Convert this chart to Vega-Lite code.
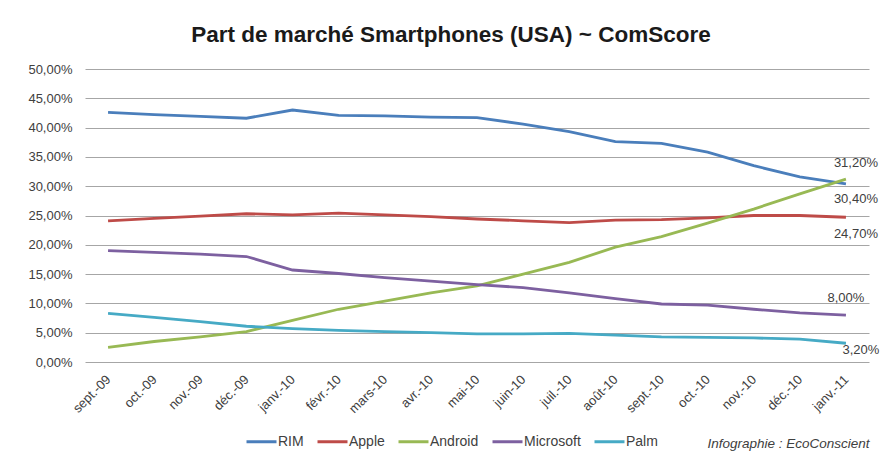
{
  "$schema": "https://vega.github.io/schema/vega-lite/v6.json",
  "width": 784,
  "height": 293,
  "autosize": {"type": "none"},
  "padding": {"left": 85, "top": 69, "right": 18, "bottom": 97},
  "background": "white",
  "config": {
    "locale": {"number": {"decimal": ",", "thousands": " ", "grouping": [3], "currency": ["", " €"]}},
    "view": {"stroke": null},
    "font": "Liberation Sans"
  },
  "title": {
    "text": "Part de marché Smartphones (USA) ~ ComScore",
    "font": "Liberation Sans",
    "fontSize": 22.5,
    "fontWeight": "bold",
    "color": "#1a1a1a",
    "anchor": "middle",
    "frame": "group",
    "dx": -26,
    "dy": 24,
    "baseline": "bottom",
    "offset": 18
  },
  "data": {"values": [
    {"month": "sept.-09", "series": "RIM", "value": 0.426},
    {"month": "oct.-09", "series": "RIM", "value": 0.422},
    {"month": "nov.-09", "series": "RIM", "value": 0.419},
    {"month": "déc.-09", "series": "RIM", "value": 0.416},
    {"month": "janv.-10", "series": "RIM", "value": 0.430},
    {"month": "févr.-10", "series": "RIM", "value": 0.421},
    {"month": "mars-10", "series": "RIM", "value": 0.420},
    {"month": "avr.-10", "series": "RIM", "value": 0.418},
    {"month": "mai-10", "series": "RIM", "value": 0.417},
    {"month": "juin-10", "series": "RIM", "value": 0.406},
    {"month": "juil.-10", "series": "RIM", "value": 0.393},
    {"month": "août-10", "series": "RIM", "value": 0.376},
    {"month": "sept.-10", "series": "RIM", "value": 0.373},
    {"month": "oct.-10", "series": "RIM", "value": 0.358},
    {"month": "nov.-10", "series": "RIM", "value": 0.335},
    {"month": "déc.-10", "series": "RIM", "value": 0.316},
    {"month": "janv.-11", "series": "RIM", "value": 0.304},
    {"month": "sept.-09", "series": "Apple", "value": 0.241},
    {"month": "oct.-09", "series": "Apple", "value": 0.245},
    {"month": "nov.-09", "series": "Apple", "value": 0.249},
    {"month": "déc.-09", "series": "Apple", "value": 0.253},
    {"month": "janv.-10", "series": "Apple", "value": 0.251},
    {"month": "févr.-10", "series": "Apple", "value": 0.254},
    {"month": "mars-10", "series": "Apple", "value": 0.251},
    {"month": "avr.-10", "series": "Apple", "value": 0.248},
    {"month": "mai-10", "series": "Apple", "value": 0.244},
    {"month": "juin-10", "series": "Apple", "value": 0.241},
    {"month": "juil.-10", "series": "Apple", "value": 0.238},
    {"month": "août-10", "series": "Apple", "value": 0.242},
    {"month": "sept.-10", "series": "Apple", "value": 0.243},
    {"month": "oct.-10", "series": "Apple", "value": 0.246},
    {"month": "nov.-10", "series": "Apple", "value": 0.250},
    {"month": "déc.-10", "series": "Apple", "value": 0.250},
    {"month": "janv.-11", "series": "Apple", "value": 0.247},
    {"month": "sept.-09", "series": "Android", "value": 0.025},
    {"month": "oct.-09", "series": "Android", "value": 0.035},
    {"month": "nov.-09", "series": "Android", "value": 0.043},
    {"month": "déc.-09", "series": "Android", "value": 0.052},
    {"month": "janv.-10", "series": "Android", "value": 0.071},
    {"month": "févr.-10", "series": "Android", "value": 0.090},
    {"month": "mars-10", "series": "Android", "value": 0.104},
    {"month": "avr.-10", "series": "Android", "value": 0.118},
    {"month": "mai-10", "series": "Android", "value": 0.130},
    {"month": "juin-10", "series": "Android", "value": 0.150},
    {"month": "juil.-10", "series": "Android", "value": 0.170},
    {"month": "août-10", "series": "Android", "value": 0.196},
    {"month": "sept.-10", "series": "Android", "value": 0.214},
    {"month": "oct.-10", "series": "Android", "value": 0.237},
    {"month": "nov.-10", "series": "Android", "value": 0.261},
    {"month": "déc.-10", "series": "Android", "value": 0.287},
    {"month": "janv.-11", "series": "Android", "value": 0.312},
    {"month": "sept.-09", "series": "Microsoft", "value": 0.190},
    {"month": "oct.-09", "series": "Microsoft", "value": 0.187},
    {"month": "nov.-09", "series": "Microsoft", "value": 0.184},
    {"month": "déc.-09", "series": "Microsoft", "value": 0.180},
    {"month": "janv.-10", "series": "Microsoft", "value": 0.157},
    {"month": "févr.-10", "series": "Microsoft", "value": 0.151},
    {"month": "mars-10", "series": "Microsoft", "value": 0.144},
    {"month": "avr.-10", "series": "Microsoft", "value": 0.138},
    {"month": "mai-10", "series": "Microsoft", "value": 0.132},
    {"month": "juin-10", "series": "Microsoft", "value": 0.127},
    {"month": "juil.-10", "series": "Microsoft", "value": 0.118},
    {"month": "août-10", "series": "Microsoft", "value": 0.108},
    {"month": "sept.-10", "series": "Microsoft", "value": 0.099},
    {"month": "oct.-10", "series": "Microsoft", "value": 0.097},
    {"month": "nov.-10", "series": "Microsoft", "value": 0.090},
    {"month": "déc.-10", "series": "Microsoft", "value": 0.084},
    {"month": "janv.-11", "series": "Microsoft", "value": 0.080},
    {"month": "sept.-09", "series": "Palm", "value": 0.083},
    {"month": "oct.-09", "series": "Palm", "value": 0.076},
    {"month": "nov.-09", "series": "Palm", "value": 0.069},
    {"month": "déc.-09", "series": "Palm", "value": 0.061},
    {"month": "janv.-10", "series": "Palm", "value": 0.057},
    {"month": "févr.-10", "series": "Palm", "value": 0.054},
    {"month": "mars-10", "series": "Palm", "value": 0.052},
    {"month": "avr.-10", "series": "Palm", "value": 0.050},
    {"month": "mai-10", "series": "Palm", "value": 0.048},
    {"month": "juin-10", "series": "Palm", "value": 0.048},
    {"month": "juil.-10", "series": "Palm", "value": 0.049},
    {"month": "août-10", "series": "Palm", "value": 0.046},
    {"month": "sept.-10", "series": "Palm", "value": 0.043},
    {"month": "oct.-10", "series": "Palm", "value": 0.042},
    {"month": "nov.-10", "series": "Palm", "value": 0.041},
    {"month": "déc.-10", "series": "Palm", "value": 0.039},
    {"month": "janv.-11", "series": "Palm", "value": 0.032}
  ]},
  "encoding": {
    "x": {
      "field": "month",
      "type": "ordinal",
      "sort": ["sept.-09", "oct.-09", "nov.-09", "déc.-09", "janv.-10", "févr.-10", "mars-10", "avr.-10", "mai-10", "juin-10", "juil.-10", "août-10", "sept.-10", "oct.-10", "nov.-10", "déc.-10", "janv.-11"],
      "axis": {
        "title": "Infographie : EcoConscient",
        "titleFont": "Liberation Sans",
        "titleFontStyle": "italic",
        "titleFontWeight": "normal",
        "titleFontSize": 13.5,
        "titleColor": "#404040",
        "titleAnchor": "end",
        "titleAlign": "right",
        "titleBaseline": "middle",
        "titleX": 784,
        "titleY": 81,
        "labelAngle": -45,
        "labelAlign": "right",
        "labelBaseline": "middle",
        "labelPadding": 15,
        "labelFontSize": 13,
        "labelColor": "#404040",
        "labelFont": "Liberation Sans",
        "ticks": false,
        "domain": false,
        "grid": false
      }
    },
    "y": {
      "field": "value",
      "type": "quantitative",
      "scale": {"domain": [0, 0.5], "nice": false},
      "axis": {
        "title": null,
        "values": [0, 0.05, 0.1, 0.15, 0.2, 0.25, 0.3, 0.35, 0.4, 0.45, 0.5],
        "format": ".2%",
        "labelFontSize": 13,
        "labelColor": "#404040",
        "labelFont": "Liberation Sans",
        "labelPadding": 13,
        "ticks": false,
        "domain": false,
        "grid": true,
        "gridColor": "#a6a6a6",
        "gridWidth": 1
      }
    },
    "color": {
      "field": "series",
      "type": "nominal",
      "scale": {
        "domain": ["RIM", "Apple", "Android", "Microsoft", "Palm"],
        "range": ["#4a7ebb", "#be4b48", "#98b954", "#7d60a0", "#46aac5"]
      },
      "legend": {
        "title": null,
        "orient": "none",
        "legendX": 160,
        "legendY": 356,
        "direction": "horizontal",
        "symbolType": "stroke",
        "symbolSize": 900,
        "symbolStrokeWidth": 3,
        "labelFontSize": 14,
        "labelFont": "Liberation Sans",
        "labelColor": "#404040",
        "labelOffset": 0,
        "columnPadding": 7,
        "padding": 0
      }
    }
  },
  "layer": [
    {"mark": {"type": "line", "strokeWidth": 2.8}},
    {
      "transform": [{"filter": "datum.month === 'janv.-11' && datum.series === 'Android'"}],
      "mark": {"type": "text", "dx": 10, "dy": -16, "fontSize": 13, "font": "Liberation Sans"},
      "encoding": {"text": {"field": "value", "type": "quantitative", "format": ".2%"}, "color": {"value": "#404040"}}
    },
    {
      "transform": [{"filter": "datum.month === 'janv.-11' && datum.series === 'RIM'"}],
      "mark": {"type": "text", "dx": 10, "dy": 15, "fontSize": 13, "font": "Liberation Sans"},
      "encoding": {"text": {"field": "value", "type": "quantitative", "format": ".2%"}, "color": {"value": "#404040"}}
    },
    {
      "transform": [{"filter": "datum.month === 'janv.-11' && datum.series === 'Apple'"}],
      "mark": {"type": "text", "dx": 10, "dy": 17, "fontSize": 13, "font": "Liberation Sans"},
      "encoding": {"text": {"field": "value", "type": "quantitative", "format": ".2%"}, "color": {"value": "#404040"}}
    },
    {
      "transform": [{"filter": "datum.month === 'janv.-11' && datum.series === 'Microsoft'"}],
      "mark": {"type": "text", "dx": 0, "dy": -17, "fontSize": 13, "font": "Liberation Sans"},
      "encoding": {"text": {"field": "value", "type": "quantitative", "format": ".2%"}, "color": {"value": "#404040"}}
    },
    {
      "transform": [{"filter": "datum.month === 'janv.-11' && datum.series === 'Palm'"}],
      "mark": {"type": "text", "dx": 15, "dy": 7, "fontSize": 13, "font": "Liberation Sans"},
      "encoding": {"text": {"field": "value", "type": "quantitative", "format": ".2%"}, "color": {"value": "#404040"}}
    }
  ]
}
